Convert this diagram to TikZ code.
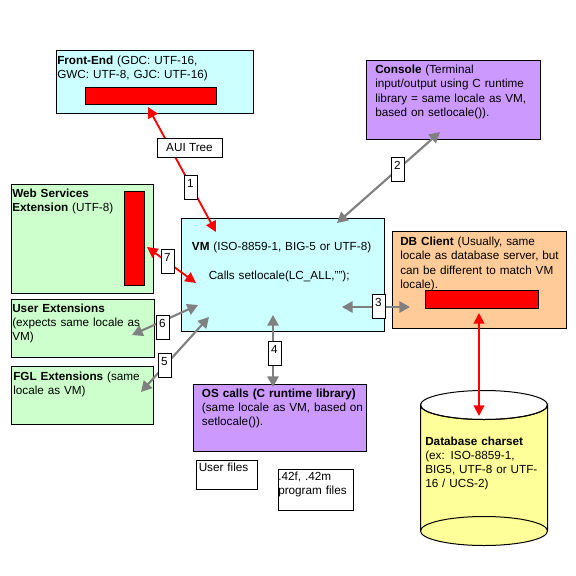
\documentclass[tikz,border=0pt]{standalone}
\usepackage{fontspec}
\setmainfont{Liberation Sans}
\usetikzlibrary{arrows.meta}

\tikzset{
  box/.style n args={3}{draw, rectangle, anchor=north west, inner sep=0pt, line width=0.75pt,
    minimum width=#1*0.75pt, minimum height=#2*0.75pt, fill=#3},
  bar/.style n args={2}{box={#1}{#2}{red}},
  txt/.style={anchor=base west, inner sep=0pt, align=left, text width=#1*0.75pt,
    font=\fontsize{8.8}{10.7}\selectfont},
  num/.style={draw, rectangle, fill=white, inner sep=0pt, line width=0.75pt, text width=13*0.75pt,
    align=center, text height=9.2pt, text depth=8.8pt,
    font=\fontsize{8.8}{10.7}\selectfont},
  redline/.style={red, line width=1.4pt, {Triangle[length=8pt,width=8pt]}-{Triangle[length=8pt,width=8pt]}},
  grayline/.style={gray, line width=1.6pt, {Triangle[length=8pt,width=8.5pt]}-{Triangle[length=8pt,width=8.5pt]}},
}
\definecolor{lightblue}{HTML}{CCFFFF}
\definecolor{lightgreen}{HTML}{CCFFCC}
\definecolor{purple}{HTML}{CC99FF}
\definecolor{peach}{HTML}{FFCC99}
\definecolor{paleyellow}{HTML}{FFFF99}
\definecolor{gray}{HTML}{808080}

\begin{document}
\begin{tikzpicture}[x=0.75pt, y=-0.75pt]
\useasboundingbox (0,0) rectangle (576,576);

% boxes
\node[box={197}{63}{lightblue}] (frontend) at (55.5,50) {};
\node[bar={131}{17}] (frontendbar) at (85,87) {};
\node[box={174}{79}{purple}] (console) at (366,60) {};
\node[box={142}{109}{lightgreen}] (webservices) at (11,184) {};
\node[bar={20}{94}] (webservicesbar) at (124,191) {};
\node[box={143}{58}{lightgreen}] (userext) at (10.5,299) {};
\node[box={142}{58}{lightgreen}] (fglext) at (11,366) {};
\node[box={203}{113}{lightblue}] (vm) at (181,218) {};
\node[box={174}{97}{peach}] (dbclient) at (392,231) {};
\node[bar={113}{18}] (dbclientbar) at (425,290) {};
\node[box={173}{67}{purple}] (oscalls) at (193,384) {};
\node[box={61}{29}{white}] (userfiles) at (195.5,460) {};
\node[box={75}{41}{white}] (progfiles) at (277.5,469) {};

% database
\draw[fill=paleyellow, line width=0.75pt] (420.5,405) -- (420.5,531)
  arc[start angle=180, end angle=0, x radius=63.5, y radius=14.5] -- (547.5,405)
  arc[start angle=0, end angle=180, x radius=63.5, y radius=14.5] -- cycle;
\draw[line width=0.75pt] (484,405) ellipse[x radius=63.5, y radius=14.5];
\draw[line width=0.75pt] (420.5,531) arc[start angle=180, end angle=360, x radius=63.5, y radius=14.5];

% connector ends
\coordinate (frontendend) at (148,107);
\coordinate (vmtop) at (216,232);
\coordinate (consoleend) at (440,132);
\coordinate (vmright) at (337,223);
\coordinate (vmdb) at (342,307);
\coordinate (dbend) at (410,307);
\coordinate (vmbottom) at (273,315);
\coordinate (osend) at (273,387);
\coordinate (vmfgl) at (209,317);
\coordinate (fglend) at (141,392);
\coordinate (vmuser) at (198,305);
\coordinate (userend) at (132,335);
\coordinate (webend) at (147,247);
\coordinate (vmweb) at (196,283);
\coordinate (dbclientend) at (479,313);
\coordinate (charsetend) at (479,416);

\draw[redline] (frontendend) -- (vmtop);
\draw[redline] (webend) -- (vmweb);
\draw[redline] (dbclientend) -- (charsetend);
\draw[grayline] (consoleend) -- (vmright);
\draw[grayline] (vmdb) -- (dbend);
\draw[grayline] (vmbottom) -- (osend);
\draw[grayline] (vmfgl) -- (fglend);
\draw[grayline] (vmuser) -- (userend);

% labels on the connectors
\node[draw, rectangle, fill=white, inner sep=0pt, line width=0.75pt, minimum width=65*0.75pt, minimum height=19*0.75pt,
  font=\fontsize{8.8}{10.7}\selectfont] (auitree) at (189.5,147.5) {AUI Tree};
\node[num] (numone) at (190.5,187) {1};
\node[num] (numtwo) at (397.5,169) {2};
\node[num] (numthree) at (378.5,306.5) {3};
\node[num] (numfour) at (274.5,353) {4};
\node[num] (numfive) at (164.5,365.5) {5};
\node[num] (numsix) at (162.5,327.5) {6};
\node[num] (numseven) at (167.5,261) {7};

% texts
\node[txt=190] (frontendtxt) at (57,64) {\textbf{Front-End} (GDC: UTF-16,\\GWC: UTF-8, GJC: UTF-16)};
\node[txt=170] (consoletxt) at (375,73.7) {\textbf{Console} (Terminal\\input/output using C runtime\\library = same locale as VM,\\based on setlocale()).};
\node[txt=110] (webservicestxt) at (12,197.7) {\textbf{Web Services}\\\textbf{Extension} (UTF-8)};
\node[txt=190] (vmtxt) at (191.7,250) {\textbf{VM} (ISO-8859-1, BIG-5 or UTF-8)};
\node[txt=170] (callstxt) at (208.5,279) {Calls setlocale(LC\_ALL,"");};
\node[txt=165] (dbclienttxt) at (400,245.7) {\textbf{DB Client} (Usually, same\\locale as database server, but\\can be different to match VM\\locale).};
\node[txt=140] (userexttxt) at (12,312) {\textbf{User Extensions}\\(expects same locale as\\VM)};
\node[txt=140] (fglexttxt) at (13,380) {\textbf{FGL Extensions} (same\\locale as VM)};
\node[txt=162] (oscallstxt) at (201.7,397) {\textbf{OS calls (C runtime library)}\\(same locale as VM, based on\\setlocale()).};
\node[txt=55] (userfilestxt) at (198.5,471.7) {User files};
\node[txt=72] (progfilestxt) at (278,480.7) {.42f, .42m\\program files};
\node[txt=120] (charsettxt) at (425,445) {\textbf{Database charset}\\(ex: ISO-8859-1,\\BIG5, UTF-8 or UTF-\\16 / UCS-2)};
\end{tikzpicture}
\end{document}
